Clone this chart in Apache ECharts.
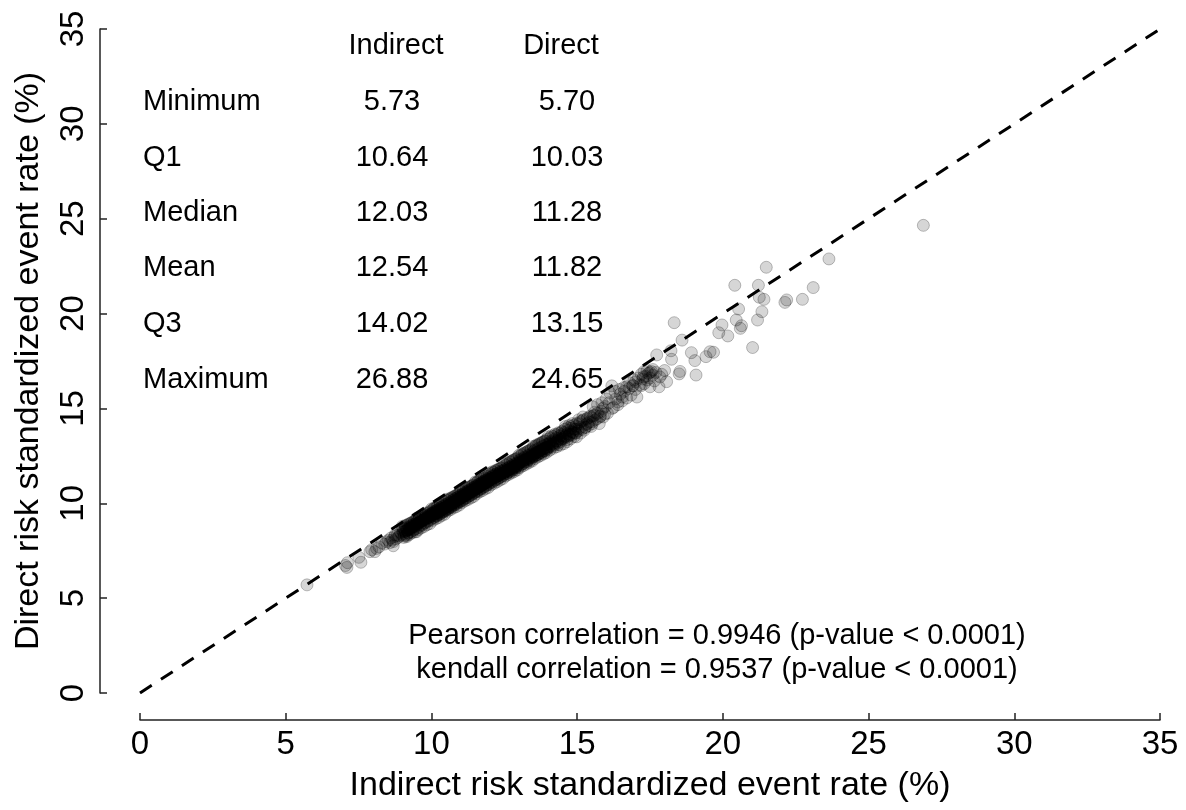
<!DOCTYPE html>
<html>
<head>
<meta charset="utf-8">
<title>Indirect vs direct risk standardized event rate</title>
<script src="https://cdn.jsdelivr.net/npm/echarts@6/dist/echarts.min.js"></script>
<style>
  html, body { margin: 0; padding: 0; background: #fff; }
  #chart { width: 1186px; height: 810px; }
</style>
</head>
<body>
<div id="chart"></div>
<script>
// summary table + correlation text
const statNames = ['Minimum', 'Q1', 'Median', 'Mean', 'Q3', 'Maximum']
const indirectStats = ['5.73', '10.64', '12.03', '12.54', '14.02', '26.88']
const directStats = ['5.70', '10.03', '11.28', '11.82', '13.15', '24.65']
const corrLines = [
  'Pearson correlation = 0.9946 (p-value < 0.0001)',
  'kendall correlation = 0.9537 (p-value < 0.0001)'
]

// [indirect, direct] pairs
const lowerTail = [
  [5.73, 5.70], [7.05, 6.72], [7.1, 6.62], [7.12, 6.87], [7.58, 6.89], [7.51, 7.15],
  [7.89, 7.45], [8.06, 7.45], [8.12, 7.62], [7.95, 7.55], [8.2, 7.7], [8.69, 7.76],
  [8.46, 7.97], [8.3, 7.9], [8.4, 7.85], [8.75, 8.33], [9.15, 8.24], [9.38, 8.59], [9.49, 8.5]
]
const bulk = [
  [8.52, 8.05], [8.57, 7.92], [8.61, 8.17], [8.66, 8.06], [8.7, 7.98], [8.74, 8.25], [8.78, 8.12], [8.82, 8.31],
  [8.86, 8.2], [8.9, 8.28], [8.94, 8.47], [8.98, 8.35],
  [9.02, 8.55], [9.05, 8.38], [9.08, 8.62], [9.11, 8.5], [9.14, 8.7], [9.17, 8.57], [9.2, 8.44], [9.23, 8.73],
  [9.26, 8.63], [9.29, 8.8], [9.32, 8.68], [9.35, 8.86], [9.38, 8.74], [9.41, 8.9], [9.44, 8.79], [9.47, 8.95],
  [9.5, 8.85], [9.52, 9.03], [9.55, 8.96], [9.57, 9.12], [9.6, 9.0], [9.62, 8.88], [9.65, 9.16], [9.67, 9.05],
  [9.7, 9.22], [9.72, 9.1], [9.75, 8.98], [9.77, 9.27], [9.8, 9.15], [9.82, 9.31], [9.85, 9.2], [9.87, 9.08],
  [9.9, 9.36], [9.92, 9.24], [9.95, 9.42], [9.97, 9.3],
  [10.0, 9.45], [10.02, 9.33], [10.04, 9.5], [10.06, 9.39], [10.08, 9.26], [10.1, 9.55], [10.12, 9.44], [10.14, 9.6],
  [10.16, 9.48], [10.18, 9.35], [10.2, 9.64], [10.22, 9.53], [10.24, 9.7], [10.26, 9.58], [10.28, 9.45], [10.3, 9.74],
  [10.32, 9.62], [10.34, 9.79], [10.36, 9.67], [10.38, 9.54], [10.4, 9.83], [10.42, 9.72], [10.44, 9.88], [10.46, 9.76],
  [10.48, 9.63],
  [10.5, 9.92], [10.52, 9.81], [10.54, 9.98], [10.56, 9.86], [10.58, 9.74], [10.6, 10.02], [10.62, 9.91], [10.64, 10.03],
  [10.66, 9.95], [10.68, 9.83], [10.7, 10.12], [10.72, 10.0], [10.74, 10.17], [10.76, 10.05], [10.78, 9.93], [10.8, 10.21],
  [10.82, 10.1], [10.84, 10.26], [10.86, 10.14], [10.88, 10.02], [10.9, 10.31], [10.92, 10.19], [10.94, 10.35], [10.96, 10.24],
  [10.98, 10.11],
  [11.0, 10.4], [11.02, 10.28], [11.04, 10.45], [11.06, 10.33], [11.08, 10.2], [11.1, 10.49], [11.12, 10.38], [11.14, 10.55],
  [11.16, 10.42], [11.18, 10.3], [11.2, 10.59], [11.22, 10.47], [11.24, 10.64], [11.26, 10.52], [11.28, 10.39], [11.3, 10.68],
  [11.32, 10.57], [11.34, 10.73], [11.36, 10.61], [11.38, 10.49], [11.4, 10.78], [11.42, 10.66], [11.44, 10.83], [11.46, 10.71],
  [11.48, 10.58],
  [11.5, 10.87], [11.52, 10.75], [11.54, 10.92], [11.56, 10.8], [11.58, 10.68], [11.6, 10.97], [11.62, 10.85], [11.64, 11.02],
  [11.66, 10.9], [11.68, 10.77], [11.7, 11.06], [11.72, 10.95], [11.74, 11.11], [11.76, 10.99], [11.78, 10.87], [11.8, 11.16],
  [11.82, 11.04], [11.84, 11.21], [11.86, 11.09], [11.88, 10.96], [11.9, 11.25], [11.92, 11.13], [11.94, 11.3], [11.96, 11.18],
  [11.98, 11.06],
  [12.0, 11.34], [12.03, 11.28], [12.05, 11.16], [12.08, 11.42], [12.1, 11.3], [12.13, 11.47], [12.15, 11.35], [12.18, 11.22],
  [12.2, 11.52], [12.23, 11.4], [12.25, 11.57], [12.28, 11.45], [12.3, 11.32], [12.33, 11.62], [12.35, 11.5], [12.38, 11.67],
  [12.4, 11.55], [12.43, 11.42], [12.45, 11.72], [12.48, 11.6],
  [12.5, 11.77], [12.53, 11.65], [12.55, 11.82], [12.58, 11.7], [12.6, 11.57], [12.63, 11.87], [12.65, 11.75], [12.68, 11.92],
  [12.7, 11.8], [12.73, 11.67], [12.75, 11.97], [12.78, 11.85], [12.8, 12.02], [12.83, 11.9], [12.85, 11.77], [12.88, 12.07],
  [12.9, 11.95], [12.93, 12.12], [12.95, 12.0], [12.98, 11.87],
  [13.0, 12.25], [13.03, 12.12], [13.06, 12.32], [13.09, 12.2], [13.12, 12.06], [13.15, 12.38], [13.18, 12.26], [13.21, 12.44],
  [13.24, 12.31], [13.27, 12.17], [13.3, 12.5], [13.33, 12.37], [13.36, 12.55], [13.39, 12.43], [13.42, 12.28], [13.45, 12.61],
  [13.48, 12.49],
  [13.5, 12.72], [13.53, 12.58], [13.56, 12.8], [13.59, 12.67], [13.62, 12.52], [13.65, 12.86], [13.68, 12.73], [13.71, 12.92],
  [13.74, 12.79], [13.77, 12.64], [13.8, 12.98], [13.83, 12.85], [13.86, 13.04], [13.89, 12.91], [13.92, 12.76], [13.95, 13.1],
  [13.98, 12.97],
  [14.02, 13.15], [14.05, 13.0], [14.08, 13.26], [14.12, 13.12], [14.16, 12.98], [14.2, 13.36], [14.24, 13.2], [14.28, 13.45],
  [14.32, 13.3], [14.36, 13.1], [14.4, 13.55], [14.44, 13.38], [14.48, 13.62],
  [14.52, 13.45], [14.56, 13.72], [14.6, 13.55], [14.65, 13.35], [14.7, 13.85], [14.75, 13.66], [14.8, 13.95], [14.85, 13.75],
  [14.9, 13.52], [14.95, 14.05], [14.98, 13.5],
  [15.03, 13.9], [15.08, 14.2], [15.13, 14.0], [15.18, 14.35], [15.24, 13.85], [15.3, 14.15], [15.36, 14.5], [15.42, 14.28],
  [15.48, 14.05], [15.55, 14.6], [15.62, 14.4], [15.7, 14.75], [15.76, 14.2], [15.83, 14.85], [15.9, 14.55], [15.96, 15.1],
  [16.04, 14.75], [16.1, 15.3], [16.19, 16.19], [16.25, 15.05], [16.32, 15.5], [16.4, 15.2], [16.48, 15.75], [16.55, 15.4],
  [16.62, 15.9], [16.7, 15.55], [16.78, 16.05], [16.85, 15.7], [16.92, 16.2],
  [17.0, 16.4], [17.1, 16.6], [17.2, 16.8], [17.25, 16.55], [17.3, 16.95], [17.35, 16.7], [17.4, 17.0], [17.45, 16.85],
  [17.5, 16.6], [17.55, 16.95], [17.6, 16.75], [17.7, 16.9], [17.3, 16.3], [17.15, 16.25], [16.9, 16.2]
]
// edges of the dense band
const bulkOuter = [
  [9.0, 8.78], [9.05, 8.2], [9.1, 8.83], [9.15, 8.3], [9.2, 8.9], [9.25, 8.36], [9.3, 8.95], [9.35, 8.45], [9.4, 9.0], [9.45, 8.5],
  [9.5, 9.22], [9.55, 8.62], [9.6, 9.28], [9.65, 8.7], [9.7, 9.33], [9.75, 8.78], [9.8, 9.4], [9.85, 8.87], [9.9, 9.48], [9.95, 8.93],
  [10.0, 9.7], [10.05, 9.1], [10.1, 9.76], [10.15, 9.18], [10.2, 9.83], [10.25, 9.25], [10.3, 9.9], [10.35, 9.35], [10.4, 9.96], [10.45, 9.42],
  [10.5, 10.18], [10.55, 9.58], [10.6, 10.24], [10.65, 9.66], [10.7, 10.3], [10.75, 9.75], [10.8, 10.38], [10.85, 9.82], [10.9, 10.44], [10.95, 9.9],
  [11.0, 10.65], [11.05, 10.04], [11.1, 10.72], [11.15, 10.12], [11.2, 10.78], [11.25, 10.2], [11.3, 10.86], [11.35, 10.28], [11.4, 10.92], [11.45, 10.36],
  [11.5, 11.12], [11.55, 10.5], [11.6, 11.18], [11.65, 10.6], [11.7, 11.26], [11.75, 10.67], [11.8, 11.32], [11.85, 10.76], [11.9, 11.4], [11.95, 10.83],
  [12.0, 11.6], [12.05, 10.98], [12.1, 11.66], [12.15, 11.05], [12.2, 11.73], [12.25, 11.13], [12.3, 11.8], [12.35, 11.22], [12.4, 11.86], [12.45, 11.3],
  [12.5, 12.06], [12.55, 11.44], [12.6, 12.13], [12.65, 11.52], [12.7, 12.2], [12.75, 11.6], [12.8, 12.27], [12.85, 11.68], [12.9, 12.33], [12.95, 11.76],
  [13.0, 12.53], [13.05, 11.9], [13.1, 12.6], [13.15, 11.98], [13.2, 12.66], [13.25, 12.06], [13.3, 12.74], [13.35, 12.15], [13.4, 12.8], [13.45, 12.22],
  [13.5, 13.0], [13.55, 12.36], [13.6, 13.07], [13.65, 12.44], [13.7, 13.14], [13.75, 12.52], [13.8, 13.2], [13.85, 12.6], [13.9, 13.27], [13.95, 12.68],
  [14.0, 13.5], [14.06, 12.8], [14.12, 13.56], [14.18, 12.9], [14.24, 13.64], [14.3, 12.98], [14.36, 13.72], [14.42, 13.06], [14.48, 13.8], [14.54, 13.14],
  [14.6, 14.05], [14.66, 13.25], [14.72, 14.1], [14.78, 13.4], [14.84, 14.2], [14.9, 13.9], [14.96, 13.7],
  [15.05, 14.4], [15.12, 13.7], [15.2, 14.55], [15.28, 14.0], [15.35, 14.2], [15.45, 14.6], [15.52, 14.2], [15.6, 14.8],
  [15.68, 14.45], [15.8, 14.6], [15.88, 15.0], [15.95, 14.7]
]
// between middle and edges of the dense band
const bulkMid = [
  [9.02, 8.7], [9.06, 8.28], [9.1, 8.77], [9.14, 8.35], [9.18, 8.85], [9.22, 8.43], [9.26, 8.93], [9.3, 8.5], [9.34, 9.0], [9.38, 8.58],
  [9.42, 9.08], [9.46, 8.65],
  [9.5, 9.16], [9.54, 8.73], [9.58, 9.23], [9.62, 8.8], [9.66, 9.31], [9.7, 8.88], [9.74, 9.38], [9.78, 8.95], [9.82, 9.46], [9.86, 9.03],
  [9.9, 9.53], [9.94, 9.1], [9.98, 9.6],
  [10.02, 9.2], [10.06, 9.68], [10.1, 9.25], [10.14, 9.75], [10.18, 9.33], [10.22, 9.83], [10.26, 9.4], [10.3, 9.9], [10.34, 9.48], [10.38, 9.98],
  [10.42, 9.55], [10.46, 10.05],
  [10.5, 9.63], [10.54, 10.13], [10.58, 9.7], [10.62, 10.2], [10.66, 9.78], [10.7, 10.28], [10.74, 9.85], [10.78, 10.35], [10.82, 9.93], [10.86, 10.43],
  [10.9, 10.0], [10.94, 10.5], [10.98, 10.08],
  [11.02, 10.58], [11.06, 10.15], [11.1, 10.65], [11.14, 10.23], [11.18, 10.73], [11.22, 10.3], [11.26, 10.8], [11.3, 10.38], [11.34, 10.88], [11.38, 10.45],
  [11.42, 10.95], [11.46, 10.53],
  [11.5, 11.05], [11.54, 10.6], [11.58, 11.12], [11.62, 10.68], [11.66, 11.2], [11.7, 10.75], [11.74, 11.27], [11.78, 10.83], [11.82, 11.35], [11.86, 10.9],
  [11.9, 11.42], [11.94, 10.98], [11.98, 11.5],
  [12.02, 11.06], [12.06, 11.56], [12.1, 11.13], [12.14, 11.63], [12.18, 11.21], [12.22, 11.71], [12.26, 11.28], [12.3, 11.78], [12.34, 11.36], [12.38, 11.86],
  [12.42, 11.43], [12.46, 11.93],
  [12.5, 11.52], [12.54, 12.0], [12.58, 11.58], [12.62, 12.08], [12.66, 11.66], [12.7, 12.16], [12.74, 11.73], [12.78, 12.23], [12.82, 11.81], [12.86, 12.31],
  [12.9, 11.88], [12.94, 12.38], [12.98, 11.96],
  [13.02, 12.47], [13.06, 12.03], [13.1, 12.54], [13.14, 12.1], [13.18, 12.62], [13.22, 12.18], [13.26, 12.69], [13.3, 12.26], [13.34, 12.77], [13.38, 12.33],
  [13.42, 12.84], [13.46, 12.41],
  [13.5, 12.93], [13.54, 12.48], [13.58, 13.0], [13.62, 12.56], [13.66, 13.08], [13.7, 12.63], [13.74, 13.15], [13.78, 12.71], [13.82, 13.23], [13.86, 12.78],
  [13.9, 13.3], [13.94, 12.86], [13.98, 13.38],
  [14.03, 12.95], [14.08, 13.45], [14.13, 13.02], [14.18, 13.52], [14.23, 13.1], [14.28, 13.6], [14.33, 13.18], [14.38, 13.68], [14.43, 13.26], [14.48, 13.75],
  [14.53, 13.4], [14.58, 13.9], [14.63, 13.48], [14.68, 13.98], [14.73, 13.56], [14.78, 14.05], [14.83, 13.62], [14.88, 14.12], [14.93, 13.7], [14.98, 14.2],
  [15.04, 13.82], [15.1, 14.3], [15.16, 13.9], [15.22, 14.4], [15.28, 14.0], [15.34, 14.45], [15.4, 14.1], [15.46, 14.55], [15.52, 14.3], [15.6, 14.65]
]
// middle of the dense band
const bulkCore = [
  [9.03, 8.48], [9.09, 8.54], [9.16, 8.6], [9.22, 8.66], [9.28, 8.7], [9.34, 8.77], [9.4, 8.82], [9.46, 8.88], [9.53, 8.93], [9.59, 9.0],
  [9.66, 9.06], [9.72, 9.12], [9.79, 9.2], [9.86, 9.26], [9.93, 9.33],
  [10.01, 9.41], [10.05, 9.47], [10.09, 9.36], [10.13, 9.5], [10.17, 9.55], [10.21, 9.45], [10.25, 9.61], [10.29, 9.52], [10.33, 9.68], [10.37, 9.58],
  [10.41, 9.74], [10.45, 9.64], [10.49, 9.8], [10.53, 9.72], [10.57, 9.9], [10.61, 9.8], [10.65, 9.96], [10.69, 9.9], [10.73, 10.05], [10.77, 9.98],
  [10.81, 10.14], [10.85, 10.06], [10.89, 10.2], [10.93, 10.12], [10.97, 10.28],
  [11.01, 10.3], [11.05, 10.38], [11.09, 10.32], [11.13, 10.45], [11.17, 10.4], [11.21, 10.54], [11.25, 10.48], [11.29, 10.6], [11.33, 10.52], [11.37, 10.67],
  [11.41, 10.62], [11.45, 10.75], [11.49, 10.7], [11.53, 10.84], [11.57, 10.78], [11.61, 10.91], [11.65, 10.85], [11.69, 11.0], [11.73, 10.93], [11.77, 11.08],
  [11.81, 11.02], [11.85, 11.14], [11.89, 11.08], [11.93, 11.22], [11.97, 11.16],
  [12.02, 11.26], [12.07, 11.36], [12.12, 11.3], [12.17, 11.44], [12.22, 11.38], [12.27, 11.52], [12.32, 11.46], [12.37, 11.6], [12.42, 11.54], [12.47, 11.68],
  [12.52, 11.62], [12.57, 11.76], [12.62, 11.7], [12.67, 11.84], [12.72, 11.78], [12.77, 11.92], [12.82, 11.86], [12.87, 12.0], [12.92, 11.94], [12.97, 12.08],
  [13.02, 12.15], [13.07, 12.26], [13.13, 12.2], [13.19, 12.34], [13.25, 12.28], [13.31, 12.44], [13.37, 12.38], [13.43, 12.52], [13.49, 12.46], [13.55, 12.62],
  [13.61, 12.56], [13.67, 12.72], [13.73, 12.66], [13.79, 12.82], [13.85, 12.76], [13.91, 12.92], [13.97, 12.86],
  [14.03, 13.1], [14.1, 13.2], [14.17, 13.14], [14.24, 13.3], [14.31, 13.26], [14.38, 13.42], [14.45, 13.36], [14.52, 13.56], [14.59, 13.5], [14.66, 13.66],
  [14.73, 13.6], [14.8, 13.78], [14.87, 13.72], [14.94, 13.9]
]
// looser cloud between 15.5 and 18
const bandTop = [
  [15.55, 15.08], [15.7, 15.2], [15.85, 15.3], [16.0, 15.5], [16.13, 15.81], [16.3, 15.9], [16.45, 16.0], [16.6, 16.1],
  [16.7, 16.14], [16.8, 16.35], [16.95, 16.5], [17.05, 15.6], [17.27, 16.66], [17.4, 16.5], [17.5, 16.9], [17.6, 17.05],
  [17.84, 16.66], [16.4, 15.34], [15.78, 14.55], [16.2, 15.0], [16.55, 15.6], [17.0, 16.0], [17.2, 16.2], [17.65, 16.45],
  [18.0, 17.0], [17.9, 16.8]
]
const upperTail = [
  [26.88, 24.65], [23.64, 22.88], [21.49, 22.44], [20.41, 21.49], [21.22, 21.49], [23.1, 21.37],
  [21.25, 20.86], [21.41, 20.75], [22.19, 20.72], [22.13, 20.59], [22.73, 20.75], [20.54, 20.24],
  [21.34, 20.1], [20.46, 19.66], [20.64, 19.36], [20.6, 19.22], [21.19, 19.66], [19.97, 19.4],
  [19.86, 18.99], [20.17, 18.82], [21.02, 18.21], [18.6, 18.6], [18.92, 17.94], [19.04, 17.52],
  [19.42, 17.73], [19.56, 17.99], [19.68, 17.96], [19.08, 16.76], [18.53, 16.95], [18.5, 16.82],
  [18.33, 19.52], [17.73, 17.82], [18.22, 18.04], [18.24, 17.59], [18.07, 16.41], [17.81, 16.14],
  [17.5, 16.14]
]
const identityLine = [0, 35]

const font = '"Liberation Sans", Arial, Helvetica, sans-serif'
const chart = echarts.init(document.getElementById('chart'))

const rowY = [102, 158, 213, 268, 324, 380]
const tableText = [
  { type: 'text', style: { text: 'Indirect', x: 396, y: 46, font: '29px ' + font, fill: '#000', textAlign: 'center', textVerticalAlign: 'middle' } },
  { type: 'text', style: { text: 'Direct', x: 561, y: 46, font: '29px ' + font, fill: '#000', textAlign: 'center', textVerticalAlign: 'middle' } }
]
statNames.forEach((name, i) => {
  tableText.push({ type: 'text', style: { text: name, x: 143, y: rowY[i], font: '29px ' + font, fill: '#000', textAlign: 'left', textVerticalAlign: 'middle' } })
  tableText.push({ type: 'text', style: { text: indirectStats[i], x: 392, y: rowY[i], font: '29px ' + font, fill: '#000', textAlign: 'center', textVerticalAlign: 'middle' } })
  tableText.push({ type: 'text', style: { text: directStats[i], x: 567, y: rowY[i], font: '29px ' + font, fill: '#000', textAlign: 'center', textVerticalAlign: 'middle' } })
})
corrLines.forEach((line, i) => {
  tableText.push({ type: 'text', style: { text: line, x: 717, y: 636 + i * 34, font: '29px ' + font, fill: '#000', textAlign: 'center', textVerticalAlign: 'middle' } })
})

const axisCommon = {
  type: 'value',
  min: 0,
  max: 35,
  interval: 5,
  splitLine: { show: false },
  axisLine: { show: true, onZero: false, lineStyle: { color: '#222', width: 1.5 } },
  axisTick: { show: true, inside: true, length: 7, lineStyle: { color: '#222', width: 1.5 } },
  nameLocation: 'middle',
  nameTextStyle: { fontSize: 34, fontFamily: font, color: '#000' }
}

chart.setOption({
  backgroundColor: '#fff',
  animation: false,
  grid: { left: 140, right: 26, top: 29, bottom: 117 },
  xAxis: Object.assign({}, axisCommon, {
    offset: 27,
    name: 'Indirect risk standardized event rate (%)',
    nameGap: 49,
    axisLabel: { fontSize: 33, fontFamily: font, color: '#000', margin: 8 }
  }),
  yAxis: Object.assign({}, axisCommon, {
    offset: 40,
    name: 'Direct risk standardized event rate (%)',
    nameGap: 54,
    axisLabel: { fontSize: 33, fontFamily: font, color: '#000', margin: 10, rotate: 90 }
  }),
  graphic: tableText,
  series: [
    {
      type: 'scatter',
      data: lowerTail.concat(bulk, bulkOuter, bulkMid, bulkCore, bandTop, upperTail),
      symbolSize: 12,
      itemStyle: { color: 'rgba(0,0,0,0.2)', borderColor: 'rgba(0,0,0,0.3)', borderWidth: 1 }
    },
    {
      type: 'line',
      data: identityLine.map(v => [v, v]),
      showSymbol: false,
      lineStyle: { color: '#000', width: 3, type: [14, 11] },
      z: 3
    }
  ]
})
</script>
</body>
</html>
